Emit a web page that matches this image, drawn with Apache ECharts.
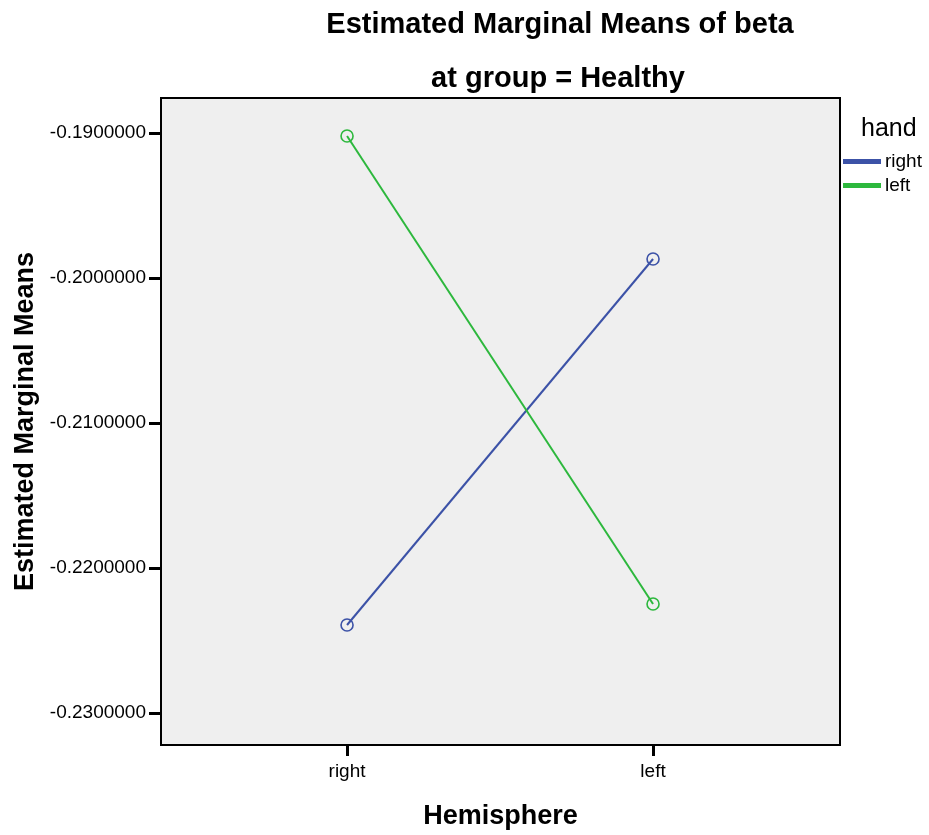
<!DOCTYPE html>
<html><head><meta charset="utf-8">
<script src="https://cdn.jsdelivr.net/npm/echarts@6/dist/echarts.min.js"></script>
<style>html,body{margin:0;padding:0;background:#fff}#c{width:929px;height:835px}</style>
</head><body><div id="c"></div>
<script>
const categories = ['right', 'left'];
const seriesNames = ['right', 'left'];
const rightHand = [-0.22393, -0.19869];
const leftHand = [-0.19021, -0.22248];
const yTicks = [-0.23, -0.22, -0.21, -0.20, -0.19];
const colors = ['#3c52a7', '#2db83d'];

const chart = echarts.init(document.getElementById('c'));
const F = '"Liberation Sans", Arial, sans-serif';
const mk = (name, vals, color) => ({
  name: name, type: 'line', data: vals.map((v, i) => [i, v]),
  symbol: 'circle', symbolSize: 12,
  lineStyle: { color: color, width: 2 },
  itemStyle: { color: 'rgba(0,0,0,0)', borderColor: color, borderWidth: 1.6 },
  emphasis: { disabled: true }, animation: false
});
chart.setOption({
  animation: false,
  title: [
    { text: 'Estimated Marginal Means of beta', left: 555, top: 5, textAlign: 'center',
      textStyle: { fontFamily: F, fontSize: 29, fontWeight: 'bold', color: '#000' } },
    { text: 'at group = Healthy', left: 553, top: 59, textAlign: 'center',
      textStyle: { fontFamily: F, fontSize: 29, fontWeight: 'bold', color: '#000' } },
    { text: 'hand', left: 856, top: 112,
      textStyle: { fontFamily: F, fontSize: 25, fontWeight: 'normal', color: '#000' } }
  ],
  legend: {
    orient: 'vertical', left: 843, top: 152, padding: 0, itemGap: 5, itemWidth: 36, itemHeight: 3,
    icon: 'rect', data: seriesNames.map((n, i) => ({ name: n, itemStyle: { color: colors[i] } })),
    textStyle: { fontFamily: F, fontSize: 19, color: '#000' }
  },
  grid: { left: 161, top: 98, width: 679, height: 647, show: true,
    backgroundColor: '#efefef', borderColor: '#000', borderWidth: 2 },
  xAxis: {
    type: 'value', min: -0.608, max: 1.611,
    name: 'Hemisphere', nameLocation: 'middle', nameGap: 58,
    nameTextStyle: { fontFamily: F, fontSize: 27, fontWeight: 'bold', color: '#000' },
    axisLine: { show: true, onZero: false, lineStyle: { color: '#000', width: 2 } },
    axisTick: { show: true, length: 11, lineStyle: { color: '#000', width: 3 }, customValues: [0, 1] },
    axisLabel: { customValues: [0, 1], margin: 17, fontFamily: F, fontSize: 19, color: '#000',
      formatter: v => categories[Math.round(v)] },
    splitLine: { show: false }
  },
  yAxis: {
    type: 'value', min: -0.232207, max: -0.187586,
    name: 'Estimated Marginal Means', nameLocation: 'middle', nameGap: 122,
    nameTextStyle: { fontFamily: F, fontSize: 27, fontWeight: 'bold', color: '#000' },
    axisLine: { show: true, onZero: false, lineStyle: { color: '#000', width: 2 } },
    axisTick: { show: true, length: 12, lineStyle: { color: '#000', width: 3 }, customValues: yTicks },
    axisLabel: { customValues: yTicks, margin: 15, fontFamily: F, fontSize: 19, color: '#000',
      formatter: v => v.toFixed(7) },
    splitLine: { show: false }
  },
  series: [mk(seriesNames[0], rightHand, colors[0]), mk(seriesNames[1], leftHand, colors[1])]
});
</script></body></html>
